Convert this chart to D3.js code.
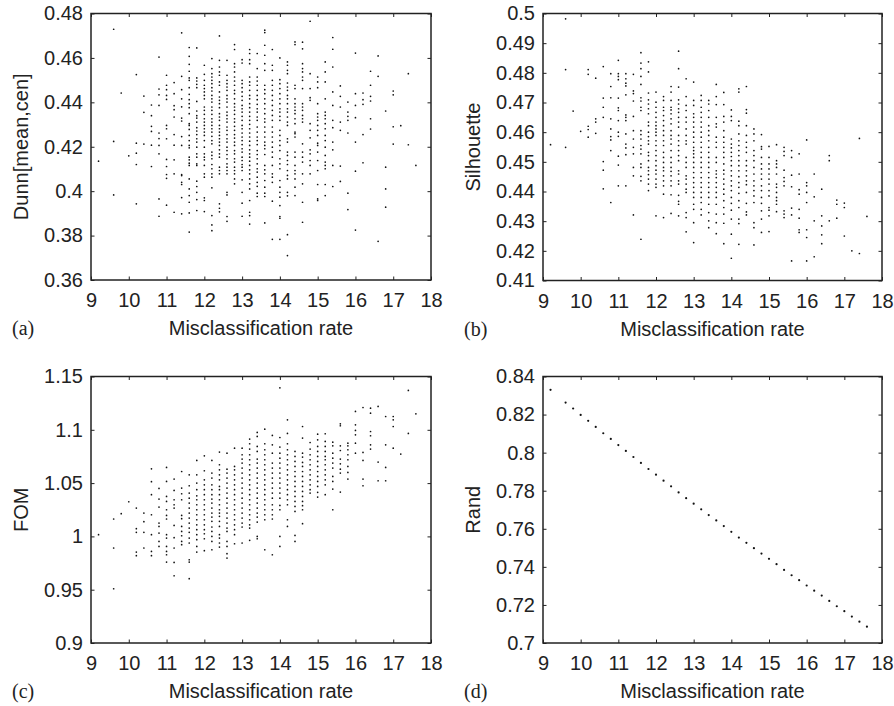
<!DOCTYPE html>
<html>
<head>
<meta charset="utf-8">
<script src="https://cdn.jsdelivr.net/npm/d3@7"></script>
<style>
  body { margin: 0; background: #fff; }
  svg text { font-family: "Liberation Sans", Arial, sans-serif; fill: #222; }
  .tag { font-family: "Liberation Serif", "Times New Roman", serif; }
</style>
</head>
<body>
<svg id="fig" width="894" height="706"></svg>
<script>
// misclassification rate ticks, shared by all four panels
const rateTicks = [9, 10, 11, 12, 13, 14, 15, 16, 17, 18];

// (a) Dunn[mean,cen] against misclassification rate, one column per rate
const dunnCols = [
  [9.2, [0.4135]],
  [9.6, [0.4729, 0.4224, 0.3983]],
  [9.8, [0.4442]],
  [10.0, [0.4159]],
  [10.2, [0.4525, 0.4216, 0.4171, 0.412, 0.3943]],
  [10.4, [0.4428, 0.4355, 0.4212]],
  [10.6, [0.4388, 0.434, 0.4292, 0.4269, 0.4207, 0.4111]],
  [10.8, [0.4604, 0.446, 0.4434, 0.4386, 0.4262, 0.4237, 0.4206, 0.4168, 0.3965, 0.3887]],
  [11.0, [0.4522, 0.4477, 0.4457, 0.4431, 0.4413, 0.4296, 0.4281, 0.4236, 0.4143, 0.4111, 0.4075, 0.4058, 0.3937]],
  [11.2, [0.4489, 0.4439, 0.4385, 0.4367, 0.4334, 0.4255, 0.4207, 0.4141, 0.4078, 0.3905]],
  [11.4, [0.4713, 0.4517, 0.4457, 0.4416, 0.438, 0.4329, 0.4316, 0.4246, 0.4206, 0.4075, 0.407, 0.404, 0.403, 0.3971, 0.3898]],
  [11.6, [0.4647, 0.4607, 0.4571, 0.454, 0.451, 0.4499, 0.4466, 0.4436, 0.4412, 0.4394, 0.4376, 0.4349, 0.4304, 0.4296, 0.4278, 0.4251, 0.4228, 0.4206, 0.4195, 0.4153, 0.4141, 0.4126, 0.4116, 0.4055, 0.401, 0.398, 0.395, 0.3902, 0.3816]],
  [11.8, [0.4645, 0.451, 0.4496, 0.4481, 0.4466, 0.4404, 0.4361, 0.434, 0.4329, 0.4311, 0.4286, 0.4271, 0.4255, 0.4236, 0.4221, 0.4198, 0.4168, 0.4153, 0.4123, 0.4116, 0.4045, 0.4021, 0.3995, 0.3962, 0.3913]],
  [12.0, [0.4567, 0.4526, 0.4499, 0.4477, 0.4462, 0.4447, 0.4431, 0.4416, 0.4379, 0.4364, 0.4346, 0.4326, 0.4311, 0.4296, 0.4281, 0.4266, 0.4251, 0.4228, 0.4198, 0.4168, 0.4153, 0.4141, 0.4116, 0.4078, 0.4063, 0.397, 0.3958, 0.3908]],
  [12.2, [0.4597, 0.4552, 0.4529, 0.4514, 0.4499, 0.4484, 0.4466, 0.4451, 0.4431, 0.4416, 0.4401, 0.4379, 0.4364, 0.4346, 0.4326, 0.4311, 0.4296, 0.4281, 0.4266, 0.4247, 0.4228, 0.4213, 0.4176, 0.4161, 0.4146, 0.412, 0.4101, 0.4078, 0.4063, 0.4015, 0.389, 0.3848, 0.3822]],
  [12.4, [0.4699, 0.4589, 0.4559, 0.4537, 0.4522, 0.4492, 0.4477, 0.4447, 0.4424, 0.4409, 0.4394, 0.4376, 0.4349, 0.4334, 0.4319, 0.4296, 0.4281, 0.4266, 0.4251, 0.4236, 0.4221, 0.4206, 0.4186, 0.4168, 0.4153, 0.4108, 0.4093, 0.4078, 0.3943, 0.3923, 0.3907]],
  [12.6, [0.4589, 0.4522, 0.4499, 0.4484, 0.4469, 0.4454, 0.4431, 0.4416, 0.4401, 0.4379, 0.4356, 0.4341, 0.4326, 0.4311, 0.4289, 0.4274, 0.4255, 0.4236, 0.4221, 0.4198, 0.4183, 0.4165, 0.4146, 0.4123, 0.4108, 0.4093, 0.4078, 0.3995, 0.3983, 0.3886, 0.3864]],
  [12.8, [0.466, 0.4638, 0.4574, 0.4559, 0.4537, 0.4514, 0.4496, 0.4477, 0.4454, 0.4439, 0.4416, 0.4394, 0.4379, 0.4364, 0.4346, 0.4326, 0.4311, 0.4292, 0.4274, 0.4255, 0.4239, 0.4221, 0.4206, 0.4183, 0.4168, 0.4146, 0.4131, 0.4108, 0.4093, 0.4078, 0.4055, 0.4033]],
  [13.0, [0.4592, 0.4577, 0.4499, 0.4484, 0.4466, 0.4447, 0.4427, 0.4409, 0.4386, 0.4371, 0.4356, 0.4337, 0.4319, 0.4296, 0.4281, 0.4262, 0.4244, 0.4228, 0.421, 0.4191, 0.4176, 0.4153, 0.4138, 0.412, 0.4108, 0.4093, 0.4051, 0.3995, 0.3946, 0.3887]],
  [13.2, [0.4638, 0.462, 0.4592, 0.4574, 0.4514, 0.4492, 0.4477, 0.4454, 0.4431, 0.4416, 0.4394, 0.4376, 0.4356, 0.4337, 0.4319, 0.4301, 0.4281, 0.4262, 0.4244, 0.4225, 0.4206, 0.4186, 0.4168, 0.4153, 0.4135, 0.4116, 0.4096, 0.4078, 0.4055, 0.4033, 0.401, 0.3958, 0.3905, 0.389, 0.3852]],
  [13.4, [0.462, 0.4552, 0.4514, 0.4496, 0.4477, 0.4454, 0.4431, 0.4412, 0.4391, 0.4371, 0.4356, 0.4334, 0.4319, 0.4289, 0.4266, 0.4244, 0.4228, 0.421, 0.4183, 0.4165, 0.4146, 0.4123, 0.4101, 0.4086, 0.4063, 0.404, 0.4022, 0.3991, 0.3976]],
  [13.6, [0.4725, 0.4714, 0.4657, 0.4612, 0.4574, 0.4544, 0.4477, 0.4457, 0.4439, 0.4416, 0.4394, 0.4371, 0.4349, 0.4326, 0.4311, 0.4289, 0.4266, 0.4244, 0.4221, 0.4206, 0.4191, 0.4165, 0.4116, 0.4096, 0.4078, 0.4048, 0.4018, 0.3991, 0.3976, 0.3857]],
  [13.8, [0.4638, 0.4567, 0.4544, 0.4499, 0.4477, 0.4454, 0.4431, 0.4409, 0.4386, 0.4364, 0.4341, 0.4319, 0.4289, 0.4266, 0.4244, 0.4221, 0.4198, 0.4176, 0.4153, 0.4116, 0.4078, 0.4063, 0.404, 0.3955, 0.3783]],
  [14.0, [0.46, 0.4502, 0.4484, 0.4462, 0.4439, 0.4416, 0.4394, 0.4371, 0.4356, 0.4337, 0.4319, 0.4274, 0.4251, 0.4228, 0.4206, 0.4183, 0.4146, 0.4123, 0.4101, 0.4048, 0.4018, 0.3995, 0.3973, 0.3935, 0.3886, 0.3878, 0.3783]],
  [14.2, [0.4582, 0.4567, 0.4544, 0.4529, 0.4487, 0.4469, 0.4454, 0.4431, 0.4416, 0.4394, 0.4371, 0.4356, 0.4334, 0.4311, 0.4296, 0.4236, 0.4221, 0.4176, 0.4161, 0.4138, 0.412, 0.4093, 0.4071, 0.4055, 0.3995, 0.3979, 0.3804, 0.371]],
  [14.4, [0.4672, 0.466, 0.4477, 0.4462, 0.4416, 0.4394, 0.4379, 0.4364, 0.4349, 0.4326, 0.4304, 0.4266, 0.4259, 0.4244, 0.4176, 0.4153, 0.4116, 0.4093, 0.4078, 0.4055, 0.4018, 0.398]],
  [14.6, [0.4671, 0.4641, 0.4574, 0.4552, 0.4537, 0.4514, 0.4499, 0.4462, 0.4394, 0.4379, 0.4364, 0.4341, 0.4326, 0.4311, 0.4213, 0.4176, 0.4153, 0.4131, 0.4078, 0.4033, 0.395, 0.386]],
  [14.8, [0.4765, 0.4529, 0.4462, 0.4421, 0.4409, 0.4304, 0.4274, 0.424, 0.4186, 0.4168, 0.4138, 0.4116, 0.4078]],
  [15.0, [0.4514, 0.4492, 0.4466, 0.4394, 0.4349, 0.4334, 0.4319, 0.4296, 0.4274, 0.4251, 0.4216, 0.4206, 0.4176, 0.4138, 0.4093, 0.403, 0.3965, 0.3958]],
  [15.2, [0.4582, 0.4537, 0.4492, 0.4416, 0.4356, 0.4341, 0.4326, 0.4304, 0.4281, 0.4251, 0.4228, 0.4198, 0.4161, 0.4131, 0.4116, 0.4101, 0.403, 0.398]],
  [15.4, [0.4692, 0.4639, 0.4559, 0.4447, 0.4386, 0.4319, 0.4286, 0.4221, 0.4186, 0.4116, 0.4021]],
  [15.6, [0.4474, 0.4427, 0.4379, 0.4311, 0.4274, 0.4113, 0.4044]],
  [15.8, [0.4401, 0.4356, 0.4337, 0.4319, 0.4262, 0.3991, 0.3917]],
  [16.0, [0.4622, 0.4439, 0.4386, 0.4331, 0.4221, 0.409, 0.3825]],
  [16.2, [0.4442, 0.4412, 0.4391, 0.4255, 0.4128]],
  [16.4, [0.454, 0.4477, 0.4427, 0.4406, 0.4326, 0.428]],
  [16.6, [0.4609, 0.4517, 0.3774]],
  [16.8, [0.4361, 0.4108, 0.401, 0.3928]],
  [17.0, [0.4451, 0.4434, 0.429, 0.4212]],
  [17.2, [0.4295]],
  [17.4, [0.4529, 0.4209]],
  [17.6, [0.4116]]
];

// (b) Silhouette against misclassification rate
const silhouetteCols = [
  [9.2, [0.4558]],
  [9.6, [0.4982, 0.4811, 0.4549]],
  [9.8, [0.4671]],
  [10.0, [0.4603]],
  [10.2, [0.4811, 0.4795, 0.462, 0.4609, 0.4583]],
  [10.4, [0.4782, 0.4645, 0.4634, 0.4596]],
  [10.6, [0.4821, 0.4715, 0.4684, 0.465, 0.4501, 0.4472, 0.4409]],
  [10.8, [0.4797, 0.4754, 0.4716, 0.4645, 0.4611, 0.4585, 0.4574, 0.4538, 0.4363]],
  [11.0, [0.4842, 0.4797, 0.4788, 0.4777, 0.4715, 0.4682, 0.4673, 0.4639, 0.46, 0.4586, 0.4519, 0.4489, 0.4419]],
  [11.2, [0.4797, 0.478, 0.4765, 0.4756, 0.4726, 0.4658, 0.465, 0.4639, 0.4594, 0.456, 0.4547, 0.4524, 0.4419]],
  [11.4, [0.4795, 0.4739, 0.473, 0.4705, 0.4653, 0.4605, 0.4577, 0.4549, 0.4527, 0.4481, 0.4453, 0.4321]],
  [11.6, [0.4868, 0.4833, 0.4814, 0.4788, 0.4761, 0.4716, 0.4705, 0.4684, 0.4673, 0.4605, 0.4592, 0.4577, 0.4555, 0.4543, 0.4527, 0.4493, 0.4481, 0.4451, 0.4436, 0.4239]],
  [11.8, [0.4837, 0.4803, 0.4732, 0.4709, 0.4695, 0.4679, 0.4662, 0.4634, 0.4622, 0.46, 0.4585, 0.4571, 0.456, 0.4532, 0.4521, 0.4504, 0.4481, 0.447, 0.4457, 0.4442, 0.4425, 0.4403]],
  [12.0, [0.4735, 0.4701, 0.4684, 0.4667, 0.465, 0.4634, 0.4622, 0.4611, 0.46, 0.4589, 0.4571, 0.4555, 0.4538, 0.4521, 0.4504, 0.4487, 0.4472, 0.4459, 0.4442, 0.4425, 0.4414, 0.4318]],
  [12.2, [0.472, 0.4707, 0.4684, 0.4673, 0.4656, 0.4639, 0.4622, 0.4605, 0.4589, 0.4571, 0.4555, 0.4532, 0.4515, 0.4498, 0.4481, 0.447, 0.4453, 0.4436, 0.4419, 0.4391, 0.4312]],
  [12.4, [0.4754, 0.4735, 0.4707, 0.4684, 0.4675, 0.4662, 0.4645, 0.4628, 0.4605, 0.4589, 0.4577, 0.456, 0.4538, 0.4515, 0.4498, 0.4481, 0.4468, 0.4453, 0.4436, 0.4419, 0.4389, 0.4326]],
  [12.6, [0.4873, 0.4814, 0.4752, 0.4709, 0.4695, 0.4679, 0.4667, 0.465, 0.4634, 0.4617, 0.4589, 0.4571, 0.4555, 0.4538, 0.4521, 0.4504, 0.447, 0.4459, 0.4436, 0.4425, 0.4387, 0.4367, 0.4357, 0.4318]],
  [12.8, [0.478, 0.472, 0.469, 0.4673, 0.465, 0.4634, 0.4611, 0.4589, 0.4571, 0.456, 0.4515, 0.4498, 0.4481, 0.4453, 0.4442, 0.4425, 0.4408, 0.4397, 0.4329, 0.4312, 0.4264]],
  [13.0, [0.4769, 0.4707, 0.469, 0.4662, 0.465, 0.4634, 0.4617, 0.46, 0.4583, 0.4566, 0.4549, 0.4538, 0.4527, 0.4515, 0.4498, 0.4481, 0.4464, 0.4447, 0.443, 0.4414, 0.4397, 0.438, 0.4357, 0.434, 0.4295, 0.4228]],
  [13.2, [0.4724, 0.4707, 0.4684, 0.4667, 0.465, 0.4634, 0.4617, 0.46, 0.4583, 0.4566, 0.4549, 0.4532, 0.4515, 0.4498, 0.4481, 0.4464, 0.4447, 0.443, 0.4414, 0.4397, 0.438, 0.4363, 0.434, 0.4321]],
  [13.4, [0.4707, 0.4695, 0.4673, 0.465, 0.4622, 0.4605, 0.4589, 0.4571, 0.4549, 0.4532, 0.4515, 0.4498, 0.4481, 0.4464, 0.4447, 0.443, 0.4414, 0.4397, 0.438, 0.4357, 0.4329, 0.4301, 0.4278]],
  [13.6, [0.4761, 0.472, 0.4693, 0.465, 0.4628, 0.4617, 0.4583, 0.4566, 0.4549, 0.4515, 0.4498, 0.447, 0.4459, 0.4447, 0.443, 0.4414, 0.4397, 0.438, 0.4357, 0.4324, 0.4295, 0.4258]],
  [13.8, [0.4734, 0.4693, 0.4653, 0.4634, 0.4605, 0.4583, 0.4566, 0.4549, 0.4532, 0.4515, 0.4493, 0.4472, 0.4459, 0.4442, 0.4425, 0.4408, 0.4391, 0.4369, 0.4346, 0.4324, 0.4293, 0.4224]],
  [14.0, [0.4675, 0.4653, 0.4639, 0.4577, 0.456, 0.4547, 0.4532, 0.4518, 0.4504, 0.4487, 0.447, 0.4453, 0.4436, 0.4419, 0.4403, 0.438, 0.436, 0.4337, 0.4307, 0.4256, 0.4175]],
  [14.2, [0.4746, 0.4735, 0.4637, 0.4622, 0.4594, 0.4571, 0.4555, 0.4538, 0.4521, 0.4504, 0.4487, 0.447, 0.445, 0.443, 0.4414, 0.4394, 0.4369, 0.4346, 0.4307, 0.4292, 0.4222]],
  [14.4, [0.4754, 0.4676, 0.4664, 0.4622, 0.4589, 0.4566, 0.4549, 0.4532, 0.4504, 0.4487, 0.447, 0.4453, 0.4436, 0.4423, 0.4397, 0.436, 0.4331, 0.4321]],
  [14.6, [0.4611, 0.4594, 0.4571, 0.4538, 0.4521, 0.4504, 0.4481, 0.4459, 0.4436, 0.4419, 0.4403, 0.4385, 0.4363, 0.4295, 0.4278, 0.422]],
  [14.8, [0.4592, 0.4551, 0.4543, 0.4515, 0.4493, 0.4476, 0.4459, 0.4442, 0.4419, 0.4403, 0.438, 0.436, 0.4335, 0.4307, 0.4262]],
  [15.0, [0.4552, 0.4515, 0.4493, 0.4476, 0.4459, 0.4442, 0.4425, 0.4403, 0.4385, 0.4346, 0.4337, 0.4318, 0.4265]],
  [15.2, [0.4558, 0.4504, 0.4493, 0.4481, 0.4459, 0.4425, 0.4414, 0.4397, 0.438, 0.4369, 0.4357, 0.4332]],
  [15.4, [0.4549, 0.4535, 0.4521, 0.4472, 0.4447, 0.4434, 0.4419, 0.4335, 0.4324, 0.4312]],
  [15.6, [0.4538, 0.4515, 0.4455, 0.4416, 0.4344, 0.4321, 0.4166]],
  [15.8, [0.4527, 0.4459, 0.4406, 0.4391, 0.434, 0.431, 0.4271, 0.4262]],
  [16.0, [0.4574, 0.443, 0.4419, 0.4397, 0.4363, 0.4271, 0.4245, 0.4166]],
  [16.2, [0.4459, 0.4382, 0.4301, 0.418]],
  [16.4, [0.4408, 0.4318, 0.4284, 0.4254, 0.4224]],
  [16.6, [0.4521, 0.4504, 0.4301]],
  [16.8, [0.4371, 0.4357, 0.431]],
  [17.0, [0.4361, 0.4346, 0.425]],
  [17.2, [0.42]],
  [17.4, [0.4579, 0.4191]],
  [17.6, [0.4316]]
];

// (c) FOM against misclassification rate
const fomCols = [
  [9.2, [1.0016]],
  [9.6, [1.0163, 0.9891, 0.9509]],
  [9.8, [1.0213]],
  [10.0, [1.0325]],
  [10.2, [1.0266, 1.0072, 1.0038, 0.9853, 0.9819]],
  [10.4, [1.0219, 1.0138, 1.0038, 0.9891]],
  [10.6, [1.0634, 1.0513, 1.0391, 1.0203, 1.0016, 0.9859, 0.9819]],
  [10.8, [1.045, 1.035, 1.0275, 1.0125, 1.0094, 1.0031, 0.9953, 0.9906]],
  [11.0, [1.0647, 1.0516, 1.0375, 1.0328, 1.025, 1.0197, 1.0163, 1.0016, 0.9984, 0.9906, 0.9859, 0.9828, 0.9759]],
  [11.2, [1.0538, 1.0431, 1.0344, 1.0297, 1.0266, 1.0103, 0.9988, 0.9891, 0.9756, 0.9631]],
  [11.4, [1.0609, 1.0453, 1.04, 1.0344, 1.0197, 1.0166, 1.0094, 1.0047, 1.0006, 0.9953, 0.9922]],
  [11.6, [1.0578, 1.0475, 1.0406, 1.0359, 1.0313, 1.0266, 1.0219, 1.0172, 1.0125, 1.0078, 1.0038, 0.9984, 0.9938, 0.9781, 0.9759, 0.9603]],
  [11.8, [1.0713, 1.0578, 1.05, 1.0438, 1.0381, 1.0344, 1.0297, 1.025, 1.0203, 1.0156, 1.0109, 1.0063, 1.0016, 0.9969, 0.9906, 0.9853]],
  [12.0, [1.0756, 1.0616, 1.0531, 1.0484, 1.0438, 1.0391, 1.0344, 1.0297, 1.025, 1.0203, 1.0156, 1.0109, 1.0063, 1.0025, 0.9978, 0.9866]],
  [12.2, [1.0713, 1.0594, 1.0547, 1.0484, 1.0438, 1.0391, 1.035, 1.0313, 1.0266, 1.0219, 1.0181, 1.0141, 1.0088, 1.0047, 1.0, 0.9953, 0.9875]],
  [12.4, [1.0791, 1.0672, 1.0625, 1.0578, 1.0531, 1.0469, 1.0438, 1.0391, 1.0344, 1.0297, 1.025, 1.0219, 1.0188, 1.0141, 1.0094, 1.0016, 0.9984, 0.9938, 0.99]],
  [12.6, [1.0781, 1.0631, 1.0594, 1.0547, 1.05, 1.0453, 1.0406, 1.0359, 1.0313, 1.0266, 1.0219, 1.0172, 1.0125, 1.0078, 1.0047, 0.9953, 0.9906, 0.9838, 0.9797]],
  [12.8, [1.0828, 1.0656, 1.0625, 1.0578, 1.0531, 1.0484, 1.0438, 1.0391, 1.0344, 1.0297, 1.025, 1.0203, 1.0156, 1.0109, 1.0063, 1.0016, 0.9931]],
  [13.0, [1.0828, 1.0766, 1.0725, 1.0688, 1.0641, 1.0594, 1.0547, 1.05, 1.0453, 1.0406, 1.0359, 1.0313, 1.0266, 1.0219, 1.0172, 1.0125, 1.0088, 0.9938]],
  [13.2, [1.0913, 1.0869, 1.0819, 1.0766, 1.0719, 1.0672, 1.0625, 1.0578, 1.0531, 1.0484, 1.0438, 1.0391, 1.0344, 1.0297, 1.025, 1.0203, 1.0156, 1.0109, 1.0078, 0.9963]],
  [13.4, [1.0975, 1.0938, 1.0844, 1.0797, 1.0725, 1.0688, 1.0641, 1.0594, 1.0547, 1.05, 1.0453, 1.0406, 1.0359, 1.0313, 1.0266, 1.0219, 1.0181, 1.0134, 1.0, 0.9978]],
  [13.6, [1.1006, 1.0869, 1.0813, 1.0766, 1.0719, 1.0672, 1.0625, 1.0578, 1.0531, 1.0484, 1.0438, 1.0391, 1.0344, 1.0297, 1.025, 1.0203, 1.0156, 0.9875]],
  [13.8, [1.0947, 1.0859, 1.0781, 1.0688, 1.0641, 1.0594, 1.0547, 1.05, 1.0453, 1.0406, 1.0359, 1.0297, 1.025, 1.0203, 1.0163, 0.9828]],
  [14.0, [1.1394, 1.0928, 1.0838, 1.0781, 1.0734, 1.0688, 1.0641, 1.0594, 1.0547, 1.05, 1.0453, 1.0406, 1.0359, 1.0291, 1.025, 1.0, 0.9906]],
  [14.2, [1.1094, 1.0966, 1.0869, 1.0813, 1.0766, 1.0719, 1.0672, 1.0625, 1.0578, 1.0531, 1.0484, 1.0438, 1.0391, 1.0344, 1.0297, 1.0156, 1.0094]],
  [14.4, [1.0797, 1.075, 1.0703, 1.0656, 1.0609, 1.0563, 1.0516, 1.0469, 1.0422, 1.0375, 1.0328, 1.0281, 1.0234, 1.0009, 0.9953]],
  [14.6, [1.1031, 1.0922, 1.0781, 1.0744, 1.0694, 1.0656, 1.0609, 1.0563, 1.0516, 1.0469, 1.0422, 1.0375, 1.0328, 1.0288, 1.025, 1.0119]],
  [14.8, [1.0881, 1.0819, 1.0766, 1.0719, 1.0672, 1.0625, 1.0578, 1.0531, 1.0484, 1.0438, 1.0406]],
  [15.0, [1.0959, 1.0906, 1.0844, 1.0797, 1.075, 1.0703, 1.0656, 1.0609, 1.0563, 1.0516, 1.0469, 1.0413, 1.0369]],
  [15.2, [1.0963, 1.0891, 1.0844, 1.0797, 1.075, 1.0719, 1.0672, 1.0625, 1.0578, 1.0531, 1.0484, 1.0391]],
  [15.4, [1.0884, 1.085, 1.0781, 1.0734, 1.0688, 1.0641, 1.0563, 1.0516, 1.0444, 1.025]],
  [15.6, [1.1056, 1.1038, 1.085, 1.0806, 1.0725, 1.0681, 1.0631, 1.0594, 1.0416]],
  [15.8, [1.0875, 1.085, 1.0813, 1.0766, 1.0719, 1.0656, 1.06, 1.0538]],
  [16.0, [1.1172, 1.1047, 1.0994, 1.0953, 1.0875, 1.0781]],
  [16.2, [1.1209, 1.0788, 1.0713, 1.0538, 1.0475]],
  [16.4, [1.1203, 1.1156, 1.0984, 1.0944, 1.0859, 1.0819]],
  [16.6, [1.1219, 1.0697, 1.0522]],
  [16.8, [1.1125, 1.0859, 1.0647, 1.0522]],
  [17.0, [1.1125, 1.1094, 1.1031, 1.0828]],
  [17.2, [1.0772]],
  [17.4, [1.1369, 1.0966]],
  [17.6, [1.115]]
];

// (d) Rand index, one value per misclassification rate
const randRates = [9.2, 9.6, 9.8, 10, 10.2, 10.4, 10.6, 10.8, 11, 11.2, 11.4, 11.6, 11.8, 12, 12.2, 12.4, 12.6, 12.8, 13, 13.2, 13.4,
  13.6, 13.8, 14, 14.2, 14.4, 14.6, 14.8, 15, 15.2, 15.4, 15.6, 15.8, 16, 16.2, 16.4, 16.6, 16.8, 17, 17.2, 17.4, 17.6];
const randValues = [0.833, 0.8263, 0.8232, 0.8198, 0.8167, 0.8135, 0.8102, 0.8072, 0.804, 0.8009, 0.7977, 0.7946, 0.7914, 0.7884,
  0.7853, 0.7823, 0.7791, 0.7761, 0.7732, 0.7702, 0.7672, 0.7644, 0.7614, 0.7584, 0.7554, 0.7526, 0.7498, 0.747, 0.7442, 0.7414,
  0.7384, 0.7356, 0.733, 0.7302, 0.7275, 0.7249, 0.7221, 0.7193, 0.7167, 0.7139, 0.7112, 0.7086];

const dunnTicks = [0.36, 0.38, 0.40, 0.42, 0.44, 0.46, 0.48];
const silhouetteTicks = [0.41, 0.42, 0.43, 0.44, 0.45, 0.46, 0.47, 0.48, 0.49, 0.5];
const fomTicks = [0.9, 0.95, 1, 1.05, 1.1, 1.15];
const randTicks = [0.7, 0.72, 0.74, 0.76, 0.78, 0.8, 0.82, 0.84];

const panels = [
  { cols: dunnCols, yTicks: dunnTicks, yLabel: 'Dunn[mean,cen]', tag: '(a)', left: 91, top: 13.5, width: 340, height: 266.5, r: 0.85 },
  { cols: silhouetteCols, yTicks: silhouetteTicks, yLabel: 'Silhouette', tag: '(b)', left: 543, top: 13.5, width: 339, height: 267, r: 0.85 },
  { cols: fomCols, yTicks: fomTicks, yLabel: 'FOM', tag: '(c)', left: 91, top: 376.5, width: 340, height: 266.5, r: 0.85 },
  { cols: randRates.map((x, i) => [x, [randValues[i]]]), yTicks: randTicks, yLabel: 'Rand', tag: '(d)', left: 543, top: 376.5, width: 339, height: 266.5, r: 1.1 }
];

const svg = d3.select('#fig');
const fmt = (d) => String(+d.toFixed(2));

panels.forEach((p) => {
  const x = d3.scaleLinear().domain([9, 18]).range([0, p.width]);
  const y = d3.scaleLinear().domain(d3.extent(p.yTicks)).range([p.height, 0]);

  const g = svg.append('g').attr('transform', `translate(${p.left},${p.top})`);

  // points
  const pts = p.cols.flatMap(([rate, vals]) => vals.map((v) => ({ x: rate, y: v })));
  g.append('g')
    .selectAll('circle')
    .data(pts)
    .enter()
      .append('circle')
      .attr('cx', (d) => x(d.x))
      .attr('cy', (d) => y(d.y))
      .attr('r', p.r)
      .attr('fill', '#111');

  // axes with inward ticks on all four sides
  const bottom = g.append('g')
    .attr('transform', `translate(0,${p.height})`)
    .call(d3.axisBottom(x).tickValues(rateTicks).tickSizeInner(-3.5).tickSizeOuter(0).tickPadding(12.8));
  const top = g.append('g')
    .call(d3.axisTop(x).tickValues(rateTicks).tickSizeInner(-3.5).tickSizeOuter(0).tickFormat(''));
  const left = g.append('g')
    .call(d3.axisLeft(y).tickValues(p.yTicks).tickSizeInner(-3.5).tickSizeOuter(0).tickPadding(8).tickFormat(fmt));
  const right = g.append('g')
    .attr('transform', `translate(${p.width},0)`)
    .call(d3.axisRight(y).tickValues(p.yTicks).tickSizeInner(-3.5).tickSizeOuter(0).tickFormat(''));

  [bottom, top, left, right].forEach((a) => {
    a.select('.domain').remove();
    a.selectAll('line').attr('stroke', '#222').attr('stroke-width', 1);
    a.selectAll('text').attr('font-size', 20).attr('font-family', null).attr('fill', '#222');
  });

  g.append('rect')
    .attr('width', p.width)
    .attr('height', p.height)
    .attr('fill', 'none')
    .attr('stroke', '#222')
    .attr('stroke-width', 1.5);

  // labels
  g.append('text')
    .attr('x', p.width / 2)
    .attr('y', p.height + 55)
    .attr('text-anchor', 'middle')
    .attr('font-size', 20)
    .text('Misclassification rate');

  g.append('text')
    .attr('transform', `translate(-63,${p.height / 2}) rotate(-90)`)
    .attr('text-anchor', 'middle')
    .attr('font-size', 20)
    .text(p.yLabel);

  g.append('text')
    .classed('tag', true)
    .attr('x', -79)
    .attr('y', p.height + 55)
    .attr('font-size', 20)
    .text(p.tag);
});
</script>
</body>
</html>
